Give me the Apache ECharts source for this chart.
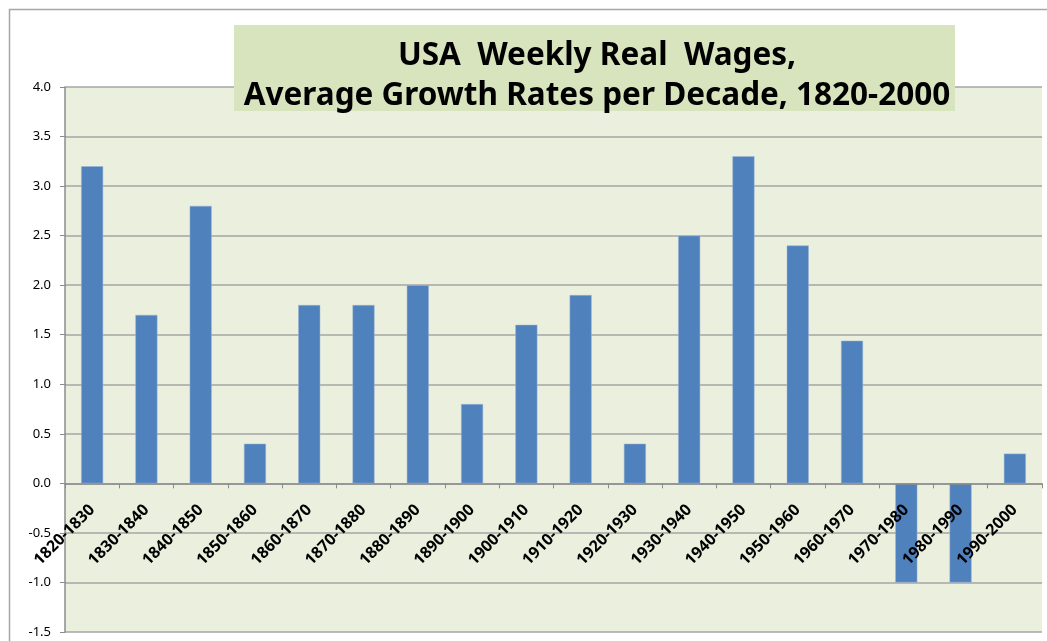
<!DOCTYPE html>
<html>
<head>
<meta charset="utf-8">
<script src="https://cdn.jsdelivr.net/npm/echarts@6/dist/echarts.min.js"></script>
<style>
  html, body { margin: 0; padding: 0; background: #fff; }
  #main { width: 1047px; height: 641px; }
</style>
</head>
<body>
<div id="main"></div>
<script>
var decades = ['1820-1830', '1830-1840', '1840-1850', '1850-1860', '1860-1870', '1870-1880',
  '1880-1890', '1890-1900', '1900-1910', '1910-1920', '1920-1930', '1930-1940',
  '1940-1950', '1950-1960', '1960-1970', '1970-1980', '1980-1990', '1990-2000'];
var growthRates = [3.2, 1.7, 2.8, 0.4, 1.8, 1.8, 2.0, 0.8, 1.6, 1.9, 0.4, 2.5, 3.3, 2.4, 1.44, -1.0, -1.0, 0.3];
var titleLines = ['USA  Weekly Real  Wages,', 'Average Growth Rates per Decade, 1820-2000'];
var yMin = -1.5, yMax = 4, yStep = 0.5;

var chartH = 641, gridTop = 87, gridBottom = 9;
var gridH = chartH - gridTop - gridBottom;
// the category axis sits on the zero line; labels must follow it
var zeroOffset = -gridH * (0 - yMin) / (yMax - yMin);

var myChart = echarts.init(document.getElementById('main'), null, { renderer: 'canvas' });

var option = {
  backgroundColor: '#fff',
  animation: false,
  graphic: [
    {
      type: 'rect',
      z: -10,
      shape: { x: 9.5, y: 9.5, width: 1100, height: 700 },
      style: { fill: 'none', stroke: '#A6A6A6', lineWidth: 1.5 }
    },
    {
      type: 'rect',
      z: 10,
      shape: { x: 234, y: 25, width: 721, height: 86 },
      style: { fill: '#D7E4BD' }
    }
  ],
  title: {
    text: titleLines.join('\n'),
    left: 592,
    top: 31,
    textAlign: 'center',
    z: 12,
    textStyle: {
      fontFamily: 'Noto Sans',
      fontWeight: 'bold',
      fontSize: 31.5,
      lineHeight: 40,
      color: '#000'
    }
  },
  grid: {
    left: 65,
    right: 5,
    top: gridTop,
    bottom: gridBottom,
    outerBoundsMode: 'none',
    containLabel: false,
    show: true,
    backgroundColor: '#EBEFDD',
    borderWidth: 0
  },
  xAxis: {
    type: 'category',
    data: decades,
    position: 'bottom',
    offset: zeroOffset,
    z: 5,
    axisLine: { onZero: false, lineStyle: { color: '#8C8C8C', width: 1.5 } },
    axisTick: { show: true, length: 5, lineStyle: { color: '#8C8C8C' } },
    axisLabel: {
      rotate: 45,
      margin: 24,
      interval: 0,
      hideOverlap: false,
      fontFamily: 'Noto Sans',
      fontWeight: 'bold',
      fontSize: 16,
      color: '#000'
    }
  },
  yAxis: {
    type: 'value',
    min: yMin,
    max: yMax,
    interval: yStep,
    axisLine: { show: true, lineStyle: { color: '#8C8C8C', width: 1.5 } },
    axisTick: { show: true, length: 5, lineStyle: { color: '#8C8C8C' } },
    axisLabel: {
      margin: 14,
      fontFamily: 'Noto Sans',
      fontSize: 13,
      color: '#000',
      formatter: function (v) { return v.toFixed(1); }
    },
    splitLine: { lineStyle: { color: '#A6A6A6', width: 1.5 } }
  },
  series: [
    {
      type: 'bar',
      data: growthRates,
      barWidth: 22,
      itemStyle: { color: '#4F81BD', borderColor: '#9DB4D6', borderWidth: 0.5 }
    }
  ]
};

myChart.setOption(option);
</script>
</body>
</html>
